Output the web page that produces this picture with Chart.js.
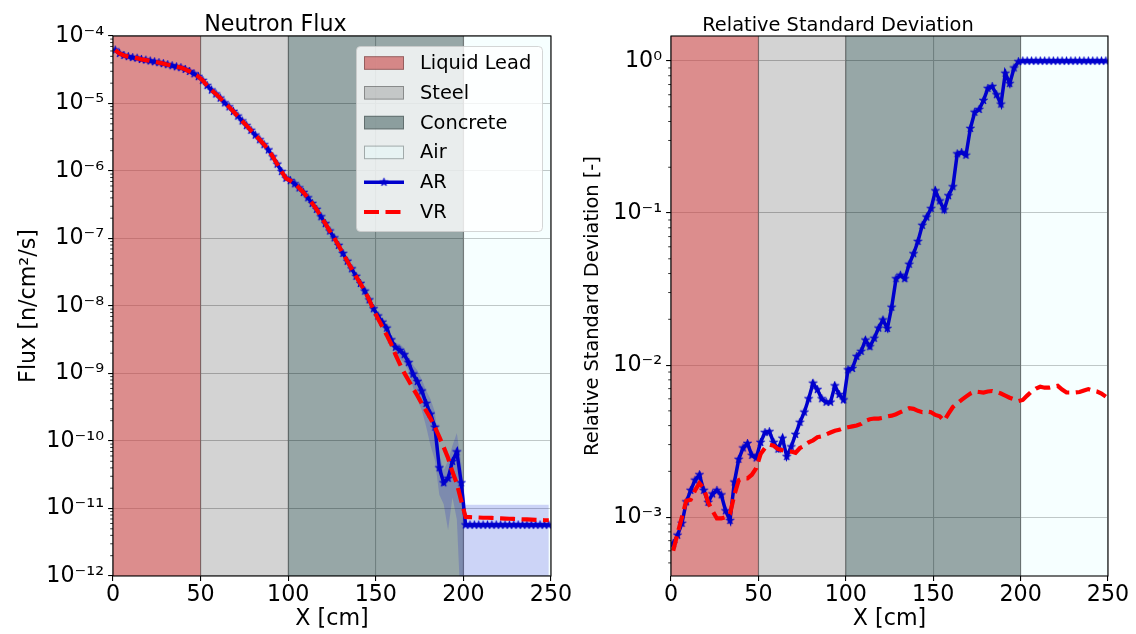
<!DOCTYPE html>
<html><head><meta charset="utf-8">
<script src="https://cdn.jsdelivr.net/npm/chart.js@4.4.1/dist/chart.umd.min.js"></script>
<style>
html,body{margin:0;padding:0;background:#fff;}
#wrap{position:relative;width:1136px;height:634px;overflow:hidden;}
#c1{position:absolute;left:0;top:0;}
#c2{position:absolute;left:568px;top:0;}
</style></head><body>
<div id="wrap"><canvas id="c1" width="600" height="634"></canvas><canvas id="c2" width="568" height="634"></canvas></div>
<script>
// ---------------- DATA ----------------
const xCenters = [1.25,3.75,6.25,8.75,11.25,13.75,16.25,18.75,21.25,23.75,
26.25,28.75,31.25,33.75,36.25,38.75,41.25,43.75,46.25,48.75,
51.25,53.75,56.25,58.75,61.25,63.75,66.25,68.75,71.25,73.75,
76.25,78.75,81.25,83.75,86.25,88.75,91.25,93.75,96.25,98.75,
101.25,103.75,106.25,108.75,111.25,113.75,116.25,118.75,121.25,123.75,
126.25,128.75,131.25,133.75,136.25,138.75,141.25,143.75,146.25,148.75,
151.25,153.75,156.25,158.75,161.25,163.75,166.25,168.75,171.25,173.75,
176.25,178.75,181.25,183.75,186.25,188.75,191.25,193.75,196.25,198.75,
201.25,203.75,206.25,208.75,211.25,213.75,216.25,218.75,221.25,223.75,
226.25,228.75,231.25,233.75,236.25,238.75,241.25,243.75,246.25,248.75];

const fluxAR = [6.2e-5,5.5e-5,5.15e-5,4.95e-5,4.8e-5,4.7e-5,4.5e-5,4.4e-5,4.27e-5,4.15e-5,
4.03e-5,3.9e-5,3.76e-5,3.63e-5,3.5e-5,3.4e-5,3.2e-5,2.98e-5,2.75e-5,2.5e-5,
2.19e-5,1.84e-5,1.58e-5,1.38e-5,1.2e-5,1.02e-5,8.9e-6,7.6e-6,6.5e-6,5.5e-6,
4.7e-6,4.0e-6,3.4e-6,2.9e-6,2.45e-6,2.05e-6,1.62e-6,1.26e-6,9.8e-7,7.8e-7,
7.2e-7,6.45e-7,5.6e-7,4.8e-7,4.0e-7,3.3e-7,2.7e-7,2.1e-7,1.66e-7,1.29e-7,
1.02e-7,7.9e-8,6.0e-8,4.6e-8,3.55e-8,2.75e-8,2.15e-8,1.66e-8,1.23e-8,9.1e-9,
7.1e-9,5.75e-9,4.7e-9,3.15e-9,2.45e-9,2.2e-9,1.9e-9,1.45e-9,9.8e-10,7.6e-10,
5.5e-10,3.6e-10,2.5e-10,1.6e-10,4.0e-11,2.4e-11,2.8e-11,5.0e-11,6.9e-11,2.4e-11,
5.7e-12,5.7e-12,5.7e-12,5.7e-12,5.7e-12,5.7e-12,5.7e-12,5.7e-12,5.7e-12,5.7e-12,
5.7e-12,5.7e-12,5.7e-12,5.7e-12,5.7e-12,5.7e-12,5.7e-12,5.7e-12,5.7e-12,5.7e-12];

const fluxVR = [6.2e-5,5.5e-5,5.15e-5,4.95e-5,4.8e-5,4.7e-5,4.5e-5,4.4e-5,4.27e-5,4.15e-5,
4.03e-5,3.9e-5,3.76e-5,3.63e-5,3.5e-5,3.4e-5,3.2e-5,2.98e-5,2.75e-5,2.5e-5,
2.19e-5,1.84e-5,1.58e-5,1.38e-5,1.2e-5,1.02e-5,8.9e-6,7.6e-6,6.5e-6,5.5e-6,
4.7e-6,4.0e-6,3.4e-6,2.9e-6,2.45e-6,2.05e-6,1.62e-6,1.26e-6,9.8e-7,7.8e-7,
7.2e-7,6.45e-7,5.6e-7,4.8e-7,4.0e-7,3.3e-7,2.7e-7,2.1e-7,1.66e-7,1.29e-7,
1.02e-7,7.9e-8,6.0e-8,4.6e-8,3.55e-8,2.75e-8,2.15e-8,1.66e-8,1.23e-8,8.7e-9,
6.5e-9,4.9e-9,3.7e-9,2.75e-9,1.9e-9,1.38e-9,1.02e-9,7.9e-10,6.0e-10,4.7e-10,
3.6e-10,2.8e-10,2.15e-10,1.6e-10,1.15e-10,8.1e-11,5.6e-11,3.5e-11,2.35e-11,1.3e-11,
7.5e-12,7.45e-12,7.4e-12,7.35e-12,7.3e-12,7.3e-12,7.25e-12,7.2e-12,7.15e-12,7.1e-12,
7.05e-12,7.0e-12,6.95e-12,6.9e-12,6.9e-12,6.85e-12,6.8e-12,6.75e-12,6.7e-12,6.7e-12];

const rsdAR = [6.7e-4,7.6e-4,9.1e-4,1.26e-3,1.5e-3,1.75e-3,1.9e-3,1.5e-3,1.25e-3,1.42e-3,
1.5e-3,1.4e-3,1.1e-3,9.5e-4,1.7e-3,2.4e-3,2.85e-3,3.05e-3,2.55e-3,2.45e-3,
3.1e-3,3.6e-3,3.65e-3,3.1e-3,2.8e-3,3.3e-3,2.5e-3,2.9e-3,3.5e-3,4.2e-3,
4.9e-3,6.0e-3,7.6e-3,6.9e-3,6.0e-3,5.7e-3,5.7e-3,7.3e-3,6.4e-3,5.9e-3,
9.3e-3,9.5e-3,1.14e-2,1.23e-2,1.46e-2,1.32e-2,1.5e-2,1.75e-2,1.98e-2,1.74e-2,
2.4e-2,3.7e-2,3.9e-2,3.7e-2,4.6e-2,5.4e-2,6.5e-2,8.3e-2,9.4e-2,0.107,
0.14,0.12,0.105,0.13,0.149,0.245,0.25,0.24,0.36,0.46,
0.48,0.55,0.66,0.68,0.6,0.52,0.83,0.71,0.9,0.99,
1.0,1.0,1.0,1.0,1.0,1.0,1.0,1.0,1.0,1.0,
1.0,1.0,1.0,1.0,1.0,1.0,1.0,1.0,1.0,1.0];

const rsdVR = [6.0e-4,7.8e-4,1.0e-3,1.28e-3,1.3e-3,1.5e-3,1.67e-3,1.55e-3,1.25e-3,1.1e-3,
9.8e-4,9.8e-4,1.0e-3,1.05e-3,1.4e-3,1.75e-3,1.8e-3,1.8e-3,1.9e-3,2.1e-3,
2.6e-3,2.85e-3,3.0e-3,2.95e-3,2.8e-3,2.75e-3,2.7e-3,2.7e-3,2.65e-3,2.85e-3,
2.95e-3,3.1e-3,3.2e-3,3.35e-3,3.4e-3,3.5e-3,3.6e-3,3.7e-3,3.75e-3,3.85e-3,
3.9e-3,3.95e-3,4.0e-3,4.1e-3,4.3e-3,4.4e-3,4.45e-3,4.45e-3,4.5e-3,4.6e-3,
4.65e-3,4.75e-3,4.9e-3,5.05e-3,5.2e-3,5.15e-3,5.0e-3,4.9e-3,4.95e-3,4.9e-3,
4.7e-3,4.6e-3,4.3e-3,4.8e-3,5.3e-3,5.6e-3,5.9e-3,6.2e-3,6.5e-3,6.7e-3,
6.65e-3,6.6e-3,6.7e-3,6.75e-3,6.65e-3,6.5e-3,6.3e-3,6.1e-3,5.95e-3,5.8e-3,
5.9e-3,6.3e-3,6.7e-3,7.0e-3,7.2e-3,7.1e-3,7.1e-3,7.2e-3,7.3e-3,6.9e-3,
6.6e-3,6.6e-3,6.6e-3,6.65e-3,6.8e-3,6.95e-3,6.8e-3,6.7e-3,6.5e-3,6.2e-3];

const regionNames = ['Liquid Lead','Steel','Concrete','Air'];
const regionStart = [0,50,100,200];
const regionEnd = [50,100,200,250];

const xTickValues = [0,50,100,150,200,250];
const xTickLabels = ['0','50','100','150','200','250'];
const fluxTickValues = [1e-12,1e-11,1e-10,1e-9,1e-8,1e-7,1e-6,1e-5,1e-4];
const fluxTickLabels = ['10\u207B\u00B9\u00B2','10\u207B\u00B9\u00B9','10\u207B\u00B9\u2070','10\u207B\u2079','10\u207B\u2078','10\u207B\u2077','10\u207B\u2076','10\u207B\u2075','10\u207B\u2074'];
const rsdTickValues = [1e-3,1e-2,1e-1,1];
const rsdTickLabels = ['10\u207B\u00B3','10\u207B\u00B2','10\u207B\u00B9','10\u2070'];

// ---------------- STYLE ----------------
const FONT = '"DejaVu Sans", sans-serif';
Chart.defaults.font.family = FONT;
Chart.defaults.color = '#000';
const BLUE = '#0000cd', RED = '#ff0000';
const regionFill = ['rgba(205,92,92,0.7)','rgba(128,128,128,0.35)','rgba(47,79,79,0.5)','rgba(224,255,255,0.3)'];
const regionEdge = 'rgba(0,0,0,0.3)';
const GRID = '#b0b0b0';

function makeStar(color, R){
  const s = Math.ceil(R*2+2);
  const c = document.createElement('canvas'); c.width = s; c.height = s;
  const g = c.getContext('2d'); const cx = s/2, cy = s/2, r = R*0.382;
  g.beginPath();
  for (let k=0;k<10;k++){ const a=-Math.PI/2+k*Math.PI/5; const rr=(k%2)?r:R; g.lineTo(cx+rr*Math.cos(a), cy+rr*Math.sin(a)); }
  g.closePath(); g.fillStyle=color; g.fill(); g.strokeStyle=color; g.lineWidth=0.8; g.stroke();
  return c;
}
const star = makeStar(BLUE, 4.3);

const pts = arr => arr.map((v,i)=>({x:xCenters[i], y:v}));

const regionsPlugin = {
  id:'regions',
  beforeDatasetsDraw(chart){
    const {ctx, chartArea:a} = chart; const x = chart.scales.x;
    ctx.save();
    ctx.beginPath(); ctx.rect(a.left,a.top,a.width,a.height); ctx.clip();
    regionStart.forEach((s,i)=>{
      const x0 = x.getPixelForValue(s), x1 = x.getPixelForValue(regionEnd[i]);
      ctx.fillStyle = regionFill[i];
      ctx.fillRect(x0, a.top, x1-x0, a.height);
    });
    ctx.strokeStyle = regionEdge; ctx.lineWidth = 1.1;
    regionStart.forEach((s,i)=>{ if(i===0) return; const xp = x.getPixelForValue(s);
      ctx.beginPath(); ctx.moveTo(xp,a.top); ctx.lineTo(xp,a.bottom); ctx.stroke(); });
    ctx.restore();
  },
  afterDatasetsDraw(chart){
    const {ctx, chartArea:a} = chart; const y = chart.scales.y;
    ctx.save();
    ctx.strokeStyle = '#000'; ctx.lineWidth = 1.1;
    ctx.strokeRect(a.left, a.top, a.width, a.height);
    ctx.lineWidth = 0.8;
    const lo = Math.floor(Math.log10(y.min)), hi = Math.ceil(Math.log10(y.max));
    for (let d=lo; d<=hi; d++){
      for (let k=2;k<=9;k++){
        const v = k*Math.pow(10,d);
        if (v < y.min || v > y.max) continue;
        const yp = y.getPixelForValue(v);
        ctx.beginPath(); ctx.moveTo(a.left, yp); ctx.lineTo(a.left-2.8, yp); ctx.stroke();
      }
    }
    ctx.restore();
  }
};

const legendPlugin = {
  id:'customLegend',
  afterDraw(chart){
    const {ctx, chartArea:a} = chart;
    const bx = a.right - 195, by = a.top + 10, bw = 186, bh = 185;
    ctx.save();
    ctx.beginPath();
    ctx.roundRect(bx+0.5, by+0.5, bw, bh, 4);
    ctx.fillStyle = 'rgba(255,255,255,0.8)'; ctx.fill();
    ctx.strokeStyle = 'rgba(204,204,204,0.8)'; ctx.lineWidth = 1; ctx.stroke();
    const items = [
      ...regionNames.map((n,i)=>({type:'patch', label:n, fill:regionFill[i]})),
      {type:'line', label:chart.data.datasets[1].label, color:BLUE, width:3.5, marker:true},
      {type:'line', label:chart.data.datasets[0].label, color:RED, width:4.2, dash:[15,6.5]}
    ];
    ctx.font = '19.4px ' + FONT; ctx.textBaseline = 'middle'; ctx.textAlign = 'left';
    items.forEach((it,k)=>{
      const cy = by + 17 + 29.8*k;
      const hx0 = bx + 8, hx1 = bx + 48;
      if (it.type==='patch'){
        ctx.fillStyle = it.fill; ctx.fillRect(hx0, cy-6.8, 40, 13.6);
        ctx.strokeStyle = 'rgba(0,0,0,0.3)'; ctx.lineWidth = 1; ctx.strokeRect(hx0+0.5, cy-6.8+0.5, 39, 12.6);
      } else {
        ctx.strokeStyle = it.color; ctx.lineWidth = it.width; ctx.setLineDash(it.dash||[]);
        ctx.beginPath(); ctx.moveTo(hx0, cy); ctx.lineTo(hx1, cy); ctx.stroke(); ctx.setLineDash([]);
        if (it.marker) ctx.drawImage(star, (hx0+hx1)/2 - star.width/2, cy - star.height/2);
      }
      ctx.fillStyle = '#000'; ctx.fillText(it.label, bx + 64, cy + 1);
    });
    ctx.restore();
  }
};

function xScale(){
  return {type:'linear', min:0, max:250,
    afterBuildTicks: s => { s.ticks = xTickValues.map(v=>({value:v})); },
    afterFit: s => { s.height = 58; s.paddingLeft = 0; s.paddingRight = 0; },
    ticks:{autoSkip:false, maxRotation:0, minRotation:0, font:{size:22.2, lineHeight:1}, padding:3.5, color:'#000',
      callback: v => { const i = xTickValues.indexOf(v); return i>=0 ? xTickLabels[i] : ''; }},
    grid:{color:GRID, lineWidth:1.1, tickLength:4.9, tickColor:'#000', tickWidth:1.1},
    border:{display:false},
    title:{display:true, text:'X [cm]', font:{size:22.2, lineHeight:1.2}, padding:{top:0,bottom:1.2}, color:'#000'}
  };
}
function yScale(min, max, vals, labels, width, titleText, titleSize, titlePad){
  return {type:'logarithmic', min:min, max:max,
    afterBuildTicks: s => { s.ticks = vals.map(v=>({value:v})); },
    afterFit: s => { s.width = width; s.paddingTop = 0; s.paddingBottom = 0; },
    ticks:{autoSkip:false, font:{size:22.2, lineHeight:1}, padding:4, color:'#000',
      callback: v => { const i = vals.indexOf(v); return i>=0 ? labels[i] : ''; }},
    grid:{color:GRID, lineWidth:1.1, tickLength:4.9, tickColor:'#000', tickWidth:1.1},
    border:{display:false},
    title:{display:true, text:titleText, font:{size:titleSize, lineHeight:1.2}, padding:{top:titlePad,bottom:0}, color:'#000'}
  };
}

// band derived from AR flux and its relative standard deviation
const bandUpper = fluxAR.map((v,i)=> v*(1+rsdAR[i]));
const bandLower = fluxAR.map((v,i)=> Math.max(v*(1-rsdAR[i]), 1e-14));

new Chart(document.getElementById('c1'), {
  type:'line',
  data:{datasets:[
    {label:'VR', data:pts(fluxVR), borderColor:RED, borderWidth:4.2, borderDash:[15,6.5], pointRadius:0, fill:false, order:0},
    {label:'AR', data:pts(fluxAR), borderColor:BLUE, borderWidth:3.5, pointStyle:star, pointRadius:4, fill:false, order:1},
    {label:'AR band', data:pts(bandUpper), borderColor:'rgba(0,0,0,0)', borderWidth:0, pointRadius:0, fill:'+1', backgroundColor:'rgba(0,0,205,0.17)', order:2},
    {label:'AR band low', data:pts(bandLower), borderColor:'rgba(0,0,0,0)', borderWidth:0, pointRadius:0, fill:false, order:3}
  ]},
  options:{
    responsive:false, animation:false, devicePixelRatio:1,
    layout:{padding:{left:0,right:49,top:0,bottom:0}},
    plugins:{legend:{display:false}, tooltip:{enabled:false},
      title:{display:true, text:'Neutron Flux', font:{size:22.2, lineHeight:1, weight:'normal'}, color:'#000', padding:{top:13.8,bottom:0}}},
    scales:{x:xScale(), y:yScale(1e-12, 1e-4, fluxTickValues, fluxTickLabels, 113, 'Flux [n/cm\u00B2/s]', 22.2, 15.7)}
  },
  plugins:[regionsPlugin, legendPlugin]
});

new Chart(document.getElementById('c2'), {
  type:'line',
  data:{datasets:[
    {label:'VR', data:pts(rsdVR), borderColor:RED, borderWidth:4.2, borderDash:[15,6.5], pointRadius:0, fill:false, order:0},
    {label:'AR', data:pts(rsdAR), borderColor:BLUE, borderWidth:3.5, pointStyle:star, pointRadius:4, fill:false, order:1}
  ]},
  options:{
    responsive:false, animation:false, devicePixelRatio:1,
    layout:{padding:{left:0,right:28,top:0,bottom:0}},
    plugins:{legend:{display:false}, tooltip:{enabled:false},
      title:{display:true, text:'Relative Standard Deviation', font:{size:19.4, lineHeight:1, weight:'normal'}, color:'#000', padding:{top:16,bottom:0.6}}},
    scales:{x:xScale(), y:yScale(4.1e-4, 1.46, rsdTickValues, rsdTickLabels, 103, 'Relative Standard Deviation [-]', 19.4, 13.4)}
  },
  plugins:[regionsPlugin]
});
</script>
</body></html>
